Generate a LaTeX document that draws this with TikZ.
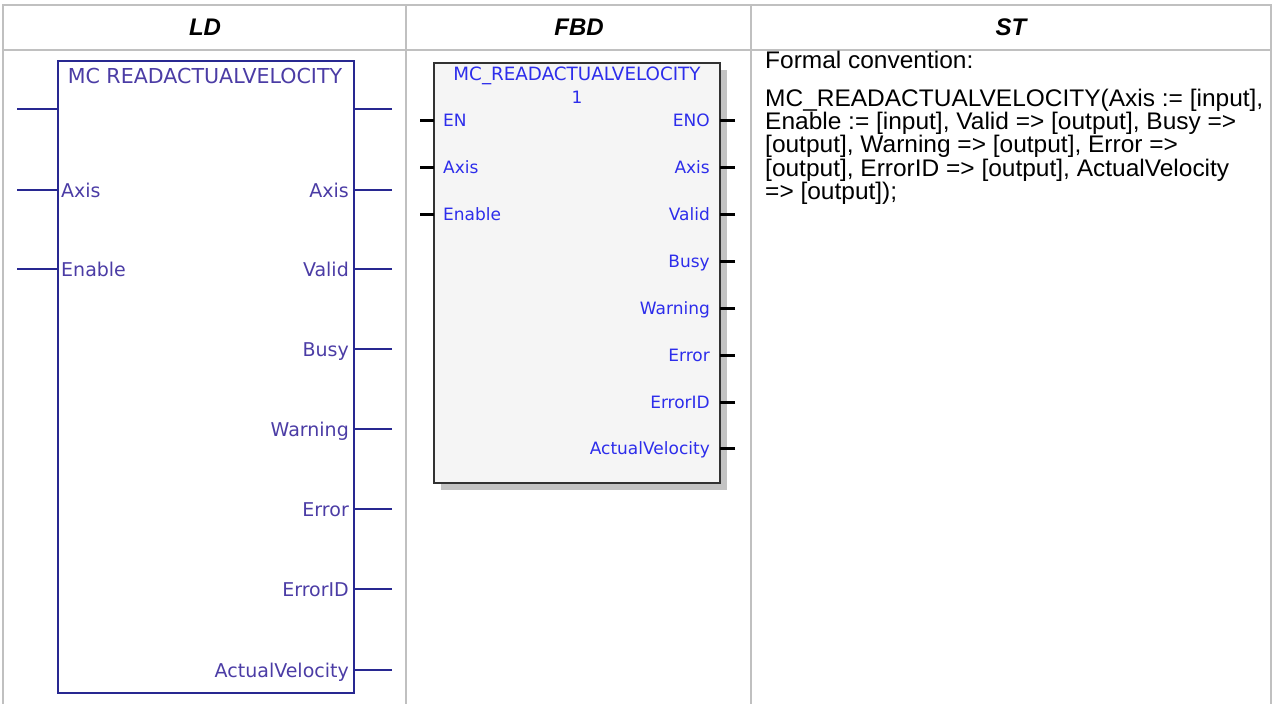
\documentclass[tikz,border=0pt]{standalone}
\usepackage{fontspec}
\setmainfont{Liberation Sans}
\newfontfamily\blockfont{DejaVu Sans}
\newfontfamily\stfont[FakeStretch=1.02]{Liberation Sans}
\usetikzlibrary{positioning}

\definecolor{gridgray}{RGB}{192,192,192}
\definecolor{ldblue}{RGB}{40,40,145}
\definecolor{ldtext}{RGB}{75,60,165}
\definecolor{fbdtext}{RGB}{45,45,235}
\definecolor{fbdfill}{RGB}{245,245,245}
\definecolor{fbdedge}{RGB}{50,50,50}
\definecolor{shadowgray}{RGB}{195,195,195}

\newcommand{\ldpinfont}{\blockfont\fontsize{19}{22}\selectfont}
\newcommand{\ldtitlefont}{\blockfont\fontsize{20.6}{24}\selectfont}
\newcommand{\fbdpinfont}{\blockfont\fontsize{17}{20}\selectfont}
\newcommand{\fbdtitlefont}{\blockfont\fontsize{18.3}{21}\selectfont}

\tikzstyle{gridline} = [draw=gridgray, line width=2pt]
\tikzstyle{header} = [
    font=\fontsize{24}{28}\selectfont\bfseries\itshape,
    inner sep=0pt
]
\tikzstyle{ldbox} = [
    rectangle,
    draw=ldblue,
    line width=2pt,
    minimum width=296pt,
    minimum height=632pt,
    inner sep=0pt,
    outer sep=0pt,
    anchor=north west
]
\tikzstyle{ldpin} = [draw=ldblue, line width=2pt]
\tikzstyle{ldin} = [
    font=\ldpinfont, text=ldtext, inner sep=0pt,
    anchor=base west, xshift=3pt, yshift=-7pt
]
\tikzstyle{ldout} = [
    font=\ldpinfont, text=ldtext, inner sep=0pt,
    anchor=base east, xshift=-5pt, yshift=-7pt
]
\tikzstyle{fbdbox} = [
    rectangle,
    draw=fbdedge,
    fill=fbdfill,
    line width=2.5pt,
    minimum width=286pt,
    minimum height=420pt,
    inner sep=0pt,
    outer sep=0pt,
    anchor=north west
]
\tikzstyle{fbdshade} = [
    rectangle,
    fill=shadowgray,
    minimum width=286pt,
    minimum height=420pt,
    inner sep=0pt,
    outer sep=0pt,
    anchor=north west
]
\tikzstyle{fbdpin} = [draw=black, line width=3pt]
\tikzstyle{fbdin} = [
    font=\fbdpinfont, text=fbdtext, inner sep=0pt,
    anchor=base west, xshift=9pt, yshift=-6pt
]
\tikzstyle{fbdout} = [
    font=\fbdpinfont, text=fbdtext, inner sep=0pt,
    anchor=base east, xshift=-10pt, yshift=-6pt
]
\tikzstyle{sttext} = [
    font=\stfont\fontsize{24}{23.2}\selectfont,
    inner sep=0pt,
    align=left
]

\begin{document}
\begin{tikzpicture}[x=1pt, y=-1pt]
\useasboundingbox (0,0) rectangle (1275,704);

% table frame
\draw [gridline] (3,5) rectangle (1271,708);
\draw [gridline] (3,50) -- (1271,50);
\draw [gridline] (406,5) -- (406,708);
\draw [gridline] (751,5) -- (751,708);

\node (ldhead) [header] at (205,27) {LD};
\node (fbdhead) [header] at (579,27) {FBD};
\node (sthead) [header] at (1011,27) {ST};

% LD block
\node (ldblock) [ldbox] at (58,61) {};
\node (ldtitle) [font=\ldtitlefont, text=ldtext, inner sep=0pt, anchor=base]
    at (205,83) {MC READACTUALVELOCITY};

\coordinate (ldL1) at (17,109);
\coordinate (ldL2) at (17,190);
\coordinate (ldL3) at (17,269);
\coordinate (ldR1) at (392,109);
\coordinate (ldR2) at (392,190);
\coordinate (ldR3) at (392,269);
\coordinate (ldR4) at (392,349);
\coordinate (ldR5) at (392,429);
\coordinate (ldR6) at (392,509);
\coordinate (ldR7) at (392,589);
\coordinate (ldR8) at (392,670);

\draw [ldpin] (ldL1) -- (ldL1 -| ldblock.west);
\draw [ldpin] (ldL2) -- (ldL2 -| ldblock.west);
\draw [ldpin] (ldL3) -- (ldL3 -| ldblock.west);
\draw [ldpin] (ldR1) -- (ldR1 -| ldblock.east);
\draw [ldpin] (ldR2) -- (ldR2 -| ldblock.east);
\draw [ldpin] (ldR3) -- (ldR3 -| ldblock.east);
\draw [ldpin] (ldR4) -- (ldR4 -| ldblock.east);
\draw [ldpin] (ldR5) -- (ldR5 -| ldblock.east);
\draw [ldpin] (ldR6) -- (ldR6 -| ldblock.east);
\draw [ldpin] (ldR7) -- (ldR7 -| ldblock.east);
\draw [ldpin] (ldR8) -- (ldR8 -| ldblock.east);

\node (ldaxisin) [ldin] at (ldL2 -| ldblock.west) {Axis};
\node (ldenable) [ldin] at (ldL3 -| ldblock.west) {Enable};
\node (ldaxisout) [ldout] at (ldR2 -| ldblock.east) {Axis};
\node (ldvalid) [ldout] at (ldR3 -| ldblock.east) {Valid};
\node (ldbusy) [ldout] at (ldR4 -| ldblock.east) {Busy};
\node (ldwarning) [ldout] at (ldR5 -| ldblock.east) {Warning};
\node (lderror) [ldout] at (ldR6 -| ldblock.east) {Error};
\node (lderrorid) [ldout] at (ldR7 -| ldblock.east) {ErrorID};
\node (ldvelocity) [ldout] at (ldR8 -| ldblock.east) {ActualVelocity};

% FBD block
\node (fbdshadow) [fbdshade] at (441,70) {};
\node (fbdblock) [fbdbox] at (434,63) {};
\node (fbdtitle) [font=\fbdtitlefont, text=fbdtext, inner sep=0pt, anchor=base]
    at (577,80) {MC\_READACTUALVELOCITY};
\node (fbdinst) [font=\fbdpinfont, text=fbdtext, inner sep=0pt, anchor=base]
    at (577,103) {1};

\coordinate (fbdL1) at (420,120);
\coordinate (fbdL2) at (420,167);
\coordinate (fbdL3) at (420,214);
\coordinate (fbdR1) at (735,120);
\coordinate (fbdR2) at (735,167);
\coordinate (fbdR3) at (735,214);
\coordinate (fbdR4) at (735,261);
\coordinate (fbdR5) at (735,308);
\coordinate (fbdR6) at (735,355);
\coordinate (fbdR7) at (735,402);
\coordinate (fbdR8) at (735,448);

\draw [fbdpin] (fbdL1) -- (fbdL1 -| fbdblock.west);
\draw [fbdpin] (fbdL2) -- (fbdL2 -| fbdblock.west);
\draw [fbdpin] (fbdL3) -- (fbdL3 -| fbdblock.west);
\draw [fbdpin] (fbdR1) -- (fbdR1 -| fbdblock.east);
\draw [fbdpin] (fbdR2) -- (fbdR2 -| fbdblock.east);
\draw [fbdpin] (fbdR3) -- (fbdR3 -| fbdblock.east);
\draw [fbdpin] (fbdR4) -- (fbdR4 -| fbdblock.east);
\draw [fbdpin] (fbdR5) -- (fbdR5 -| fbdblock.east);
\draw [fbdpin] (fbdR6) -- (fbdR6 -| fbdblock.east);
\draw [fbdpin] (fbdR7) -- (fbdR7 -| fbdblock.east);
\draw [fbdpin] (fbdR8) -- (fbdR8 -| fbdblock.east);

\node (fbden) [fbdin] at (fbdL1 -| fbdblock.west) {EN};
\node (fbdaxisin) [fbdin] at (fbdL2 -| fbdblock.west) {Axis};
\node (fbdenable) [fbdin] at (fbdL3 -| fbdblock.west) {Enable};
\node (fbdeno) [fbdout] at (fbdR1 -| fbdblock.east) {ENO};
\node (fbdaxisout) [fbdout] at (fbdR2 -| fbdblock.east) {Axis};
\node (fbdvalid) [fbdout] at (fbdR3 -| fbdblock.east) {Valid};
\node (fbdbusy) [fbdout] at (fbdR4 -| fbdblock.east) {Busy};
\node (fbdwarning) [fbdout] at (fbdR5 -| fbdblock.east) {Warning};
\node (fbderror) [fbdout] at (fbdR6 -| fbdblock.east) {Error};
\node (fbderrorid) [fbdout] at (fbdR7 -| fbdblock.east) {ErrorID};
\node (fbdvelocity) [fbdout] at (fbdR8 -| fbdblock.east) {ActualVelocity};

% ST text
\node (stformal) [sttext, anchor=base west] at (765,68) {Formal convention:};
\node (stcall) [sttext, anchor=north west] at (765,89)
{MC\_READACTUALVELOCITY(Axis := [input],\\
Enable := [input], Valid => [output], Busy =>\\{}%
[output], Warning => [output], Error =>\\{}%
[output], ErrorID => [output], ActualVelocity\\
=> [output]);};

\end{tikzpicture}
\end{document}
